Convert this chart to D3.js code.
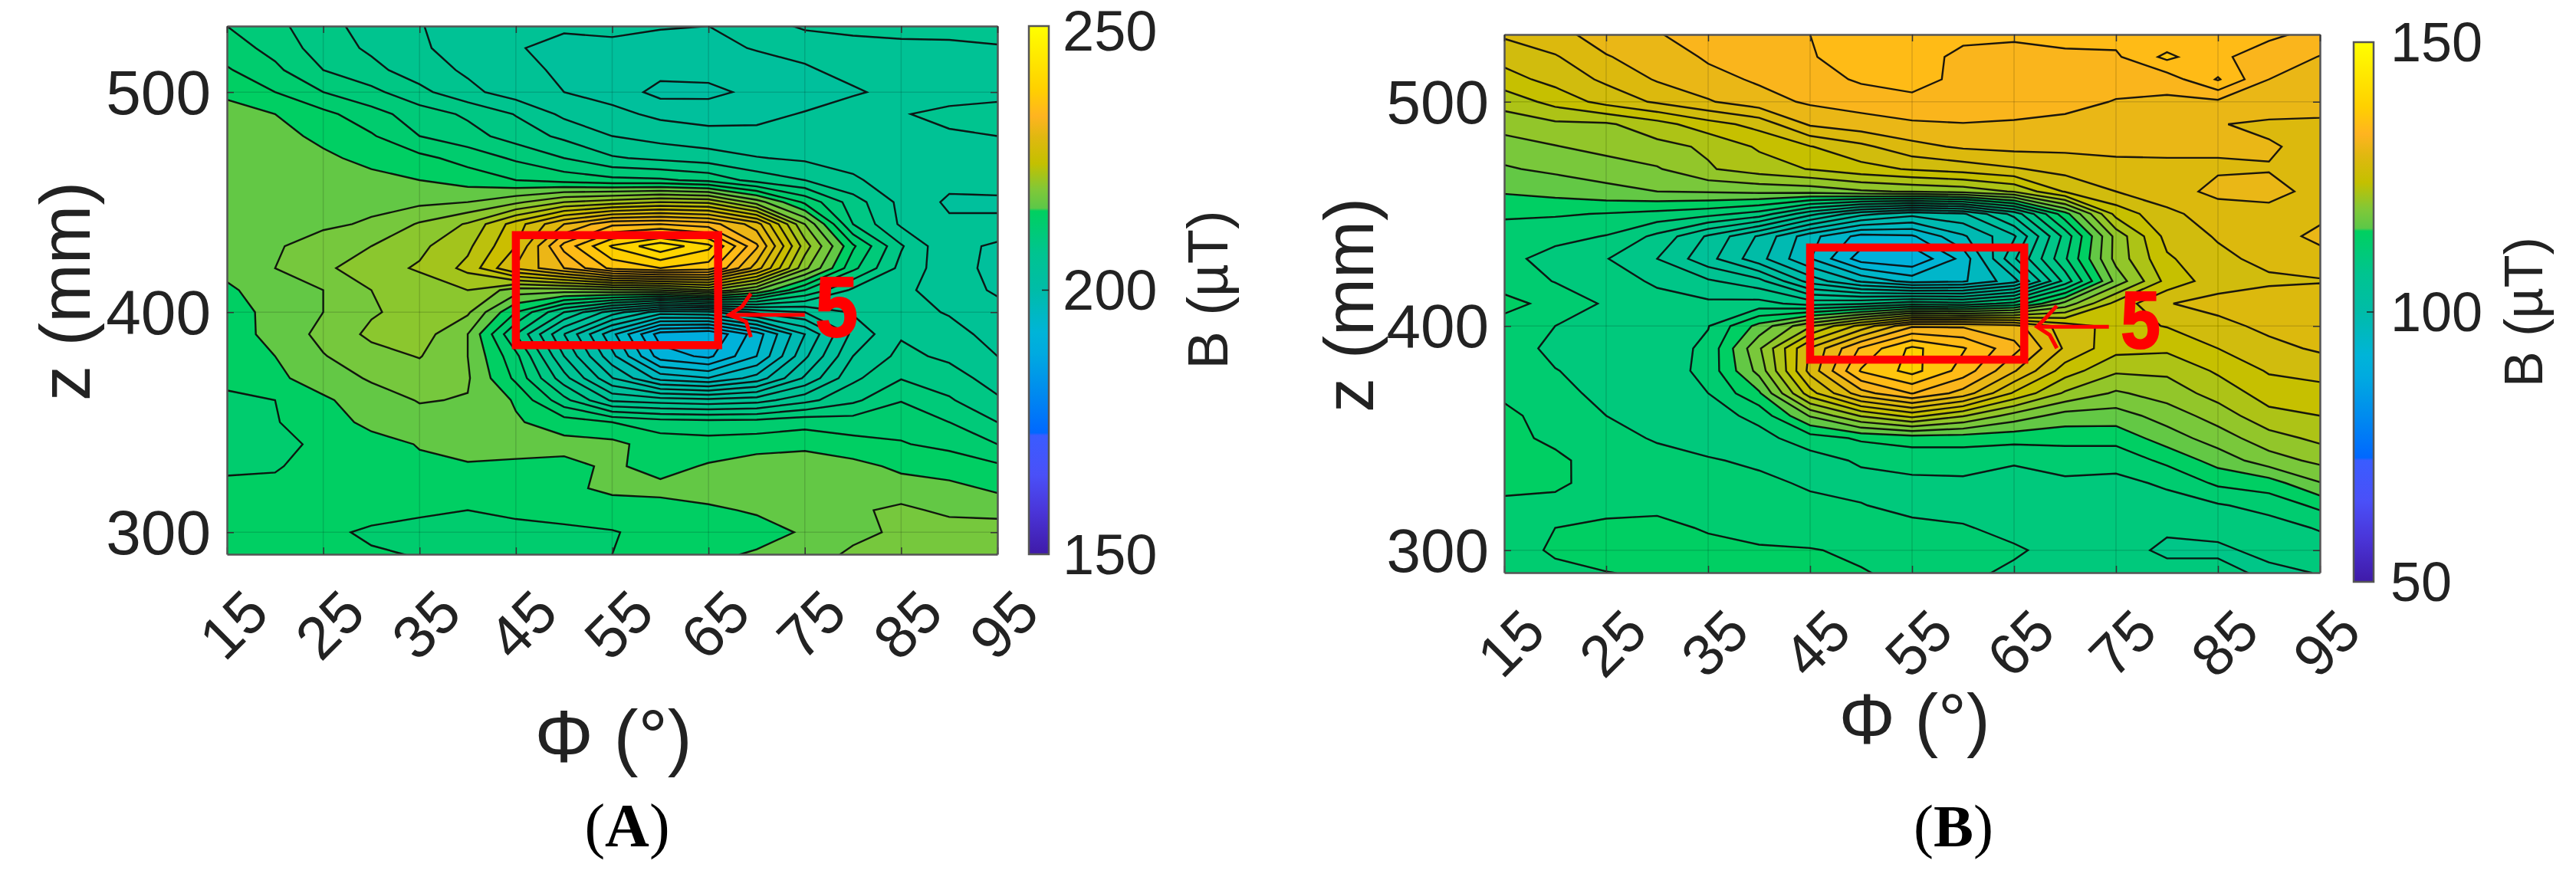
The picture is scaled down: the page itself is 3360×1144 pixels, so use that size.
<!DOCTYPE html>
<html><head><meta charset="utf-8">
<script src="https://cdn.jsdelivr.net/npm/d3@7"></script>
<style>html,body{margin:0;background:#fff}svg{display:block}text{font-family:"Liberation Sans",Arial,sans-serif;fill:#222}</style>
</head><body><div id="c"></div>
<script>
const phiValues=[15,20,25,30,35,40,45,50,55,60,65,70,75,80,85,90,95];
const zValues=[530,520,510,500,490,480,470,460,450,440,430,420,410,400,390,380,370,360,350,340,330,320,310,300,290];
const phiTicks=[15,25,35,45,55,65,75,85,95];
const zTicks=[300,400,500];
const bFieldA=[
[211.7,210.4,208.7,207.4,206.4,205.4,205.0,204.7,205.0,204.6,204.5,205.4,206.6,207.0,207.0,206.8,206.8],
[212.6,211.1,209.0,207.8,206.6,205.4,204.6,204.1,204.0,204.0,204.1,204.6,205.0,205.4,205.8,206.0,206.2],
[213.7,212.1,209.9,208.6,207.2,206.0,205.0,204.2,203.8,203.3,203.4,203.8,204.3,205.0,205.6,205.9,206.0],
[214.6,213.5,211.7,210.4,208.6,206.8,205.4,204.5,203.8,202.1,202.2,203.2,203.8,204.3,205.0,205.6,205.9],
[216.6,215.3,214.0,212.4,210.8,209.6,208.0,205.9,205.0,204.1,203.8,204.1,204.6,205.4,206.2,206.7,206.8],
[216.7,216.0,214.8,213.7,211.7,210.6,209.1,207.7,206.3,205.6,205.1,204.9,205.2,205.6,205.9,206.1,206.3],
[216.7,216.6,215.7,214.7,214.0,212.8,211.4,209.9,208.3,207.7,207.2,206.4,206.0,205.8,205.9,206.0,206.0],
[216.8,216.8,216.6,215.9,215.3,214.5,213.5,212.8,212.2,212.0,211.2,209.2,208.1,206.5,205.6,205.0,205.4],
[216.4,216.6,216.7,216.7,216.7,217.1,218.5,220.7,221.6,222.5,222.1,218.0,213.1,209.0,205.8,204.2,204.1],
[216.2,216.6,216.8,217.3,219.1,220.9,225.2,229.7,232.9,233.3,232.4,228.8,218.9,209.9,206.0,204.8,204.9],
[216.6,216.9,217.9,218.9,220.3,222.1,226.1,233.9,238.9,241.8,239.2,231.8,221.6,213.8,208.3,204.7,204.4],
[215.8,217.1,218.5,220.0,220.9,223.0,228.1,231.5,235.6,236.9,236.0,228.8,219.4,212.2,207.5,205.2,204.0],
[215.0,216.2,217.1,218.9,219.8,220.7,218.0,218.0,218.5,218.9,220.7,217.1,211.7,207.7,206.8,205.2,204.3],
[214.6,215.8,217.1,218.7,219.6,219.2,213.5,208.1,203.6,200.0,200.5,203.2,204.5,206.5,207.2,206.1,205.0],
[214.4,215.9,217.6,219.3,219.8,217.1,209.9,202.7,196.0,189.2,188.3,192.8,199.1,205.0,207.9,207.2,205.4],
[214.4,215.3,217.0,218.2,219.0,217.1,212.2,204.5,197.8,191.0,189.7,193.7,200.5,206.3,208.6,207.7,206.3],
[214.0,214.9,216.2,217.3,218.0,217.3,213.1,207.0,201.0,196.6,195.6,198.0,203.0,207.7,209.8,209.0,207.2],
[213.1,213.5,215.0,216.3,217.2,217.0,215.1,210.5,206.0,205.4,205.0,205.5,207.5,209.5,211.6,210.1,208.4],
[212.9,213.4,214.4,215.8,216.5,216.3,215.5,214.4,213.5,212.6,212.4,212.5,213.0,212.6,213.0,211.7,209.9],
[212.8,213.1,213.8,214.6,215.4,216.5,215.9,215.9,215.8,214.4,214.2,214.4,214.5,214.1,213.6,213.1,211.7],
[213.2,213.3,214.4,214.8,215.0,215.0,215.0,214.8,215.6,214.6,215.5,216.4,217.1,215.9,214.9,214.4,213.8],
[213.9,214.0,214.3,214.4,214.5,214.5,214.6,214.9,215.7,215.8,216.1,216.3,216.5,216.2,216.1,215.8,215.0],
[214.4,214.4,214.3,214.2,213.8,213.5,213.9,214.2,214.4,214.6,215.0,215.5,216.1,216.8,217.5,216.7,216.4],
[214.4,214.2,213.9,213.2,212.9,212.6,212.9,213.1,213.4,214.0,214.8,214.6,215.5,216.5,217.5,218.0,218.2],
[214.6,214.4,214.2,213.7,213.4,213.2,213.2,213.3,213.5,214.0,214.9,215.5,216.0,217.5,217.8,218.4,218.9]];
const bFieldB=[
[127.6,128.8,130.0,131.2,132.0,132.6,133.3,133.8,133.8,133.7,133.5,133.8,134.0,133.4,133.6,133.5,133.0],
[126.0,127.1,129.2,130.0,131.6,132.3,133.2,133.9,134.0,132.9,132.9,133.0,133.0,135.8,133.5,132.8,131.2],
[124.5,126.0,127.7,129.5,130.6,131.6,132.4,133.6,134.0,132.8,132.7,132.6,132.0,132.2,135.5,131.3,130.8],
[122.0,124.0,126.0,127.6,129.1,130.5,131.6,132.1,132.8,133.0,132.6,131.9,131.2,130.9,130.9,130.8,130.3],
[120.3,120.9,121.0,122.5,124.5,126.0,129.6,130.5,131.0,131.2,131.0,130.8,130.4,130.0,129.4,128.9,128.9],
[118.2,119.2,120.0,120.7,121.6,123.6,125.2,126.8,128.7,129.6,129.9,129.8,129.8,129.7,129.5,129.5,128.7],
[117.1,117.7,118.3,119.1,121.1,122.3,123.4,124.6,125.5,126.2,127.1,128.0,128.7,128.9,129.1,129.2,128.8],
[115.5,116.0,116.7,117.3,117.5,117.8,118.0,119.0,119.5,120.0,121.5,125.5,127.3,128.5,129.8,129.9,128.7],
[113.6,113.5,113.2,112.7,112.0,110.5,106.0,102.0,100.0,101.0,106.0,114.5,124.0,126.8,128.3,128.7,128.9],
[112.4,112.0,111.2,108.8,105.0,101.0,96.0,92.6,93.0,97.0,101.0,110.0,120.0,126.0,127.5,128.6,129.7],
[112.0,110.4,109.4,107.3,104.0,100.0,95.4,90.3,89.5,94.0,103.0,111.0,120.0,125.0,126.8,127.9,128.7],
[112.6,111.2,110.2,109.0,107.6,106.0,100.5,97.0,94.5,95.0,98.5,108.0,118.0,124.0,126.4,126.9,127.1],
[113.8,112.8,111.0,110.0,109.7,110.0,108.5,109.0,110.5,110.0,112.0,118.0,124.0,127.2,128.0,128.7,129.2],
[112.7,111.3,110.6,110.2,111.2,116.0,121.0,126.0,131.0,131.0,130.0,126.3,124.6,125.4,126.7,127.8,128.6],
[112.7,110.6,110.4,110.1,111.8,119.0,127.5,133.6,137.8,135.5,132.0,127.0,124.0,123.7,125.3,126.7,127.6],
[112.7,111.4,110.3,110.0,112.0,118.0,128.0,135.5,138.0,134.5,129.5,124.3,121.6,121.7,123.6,125.5,126.0],
[113.0,112.3,110.4,110.0,111.3,115.0,124.5,130.5,133.4,130.5,125.0,121.0,119.0,120.2,122.1,124.2,124.6],
[113.7,112.6,111.3,110.4,110.4,111.9,117.5,121.5,124.0,121.5,118.5,116.5,116.4,118.2,120.2,122.7,123.3],
[114.0,112.8,112.0,111.1,110.3,110.6,112.4,113.6,114.2,114.2,114.0,114.0,114.0,116.3,118.3,120.5,121.8],
[114.1,113.8,112.2,112.0,111.5,110.9,110.4,111.6,112.0,112.0,111.5,112.0,112.0,113.8,116.1,118.4,119.8],
[114.0,113.9,112.0,112.1,112.0,111.8,111.0,110.6,110.9,111.0,110.6,111.0,110.8,111.6,113.7,114.4,117.2],
[112.8,112.4,112.3,112.6,112.4,112.0,111.8,111.4,110.6,110.4,110.3,110.4,110.5,110.6,111.1,112.0,113.8],
[112.3,113.3,114.0,114.1,113.0,112.4,112.4,112.0,111.9,111.5,110.6,110.2,110.3,109.6,110.0,110.4,111.5],
[112.3,113.6,115.0,115.0,114.2,113.6,113.4,113.0,113.2,112.5,111.6,110.5,110.1,108.9,108.9,109.9,110.2],
[112.6,112.8,113.2,113.9,114.0,114.1,114.0,113.4,112.9,111.8,110.9,110.8,110.3,110.0,110.0,108.8,109.4]];
const colorStops=[0,.08,.15,.225,.23,.3,.38,.42,.5,.57,.65,.655,.69,.74,.79,.83,.88,.94,1];
const colorValues=["#3f1aa8","#4a35d8","#4a50f8","#3a5cff","#0068ff","#0088f0","#00aae0","#00b4d8","#00bca8","#00c490","#00d060","#5cc848","#80c838","#c4c000","#e0b810","#ffb420","#ffd000","#ffe800","#ffff00"];
const regionPhi=[45,66], regionZ=[385,435];
const arrowShaftPhi=[[67.2,75],[67.25,74.3]], arrowShaftZ=[398.8,399.7];
const arrowHeadPhi=[[69.4,68.5,67.15,68.9,69.4],[69.2,68,67.25,68.5,69.2]];
const arrowHeadZ=[[408.5,402.6,398.8,395.7,388.7],[409,403.1,399.7,396,390.1]];
const calloutPhi=[78.3,77.4], calloutZ=[402.3,402.8];

const cmap=d3.scaleLinear().domain(colorStops).range(colorValues).interpolate(d3.interpolateRgb);
const svg=d3.select("#c").append("svg").attr("width",3360).attr("height",1144);
const defs=svg.append("defs");
defs.append("filter").attr("id","soft").attr("x","-2%").attr("y","-2%").attr("width","104%").attr("height","104%")
  .append("feGaussianBlur").attr("stdDeviation",0.7);

function panel(o){
  const x=d3.scaleLinear().domain([15,95]).range(o.px);
  const y=d3.scaleLinear().domain([290,530]).range(o.py);
  const t=d3.scaleLinear().domain(o.clim).range([0,1]);
  const levels=d3.range(o.base,o.clim[1],o.step);
  const flat=o.data.flat();
  const nx=phiValues.length, nz=zValues.length;
  const dphi=phiValues[1]-phiValues[0], dz=zValues[0]-zValues[1];
  const path=d3.geoPath(d3.geoTransform({point(a,b){
    this.stream.point(x(phiValues[0]+(a-.5)*dphi),y(zValues[0]-(b-.5)*dz));}}));
  const cs=d3.contours().size([nx,nz]).smooth(true).thresholds(levels)(flat);
  const id="clip"+o.id;
  svg.append("clipPath").attr("id",id).append("rect")
    .attr("x",o.px[0]).attr("y",o.py[1]).attr("width",o.px[1]-o.px[0]).attr("height",o.py[0]-o.py[1]);
  const g=svg.append("g").attr("clip-path",`url(#${id})`).append("g").attr("filter","url(#soft)");
  g.selectAll("path.f").data(cs).join("path").attr("class","f")
    .attr("d",path).attr("fill",d=>cmap(Math.max(0,Math.min(1,t(d.value+o.step/2))))).attr("stroke","none");
  g.selectAll("path.l").data(cs.filter(c=>c.coordinates.length)).join("path").attr("class","l")
    .attr("d",path).attr("fill","none").attr("stroke","#0a0a0a").attr("stroke-opacity",.92).attr("stroke-width",2.4);
  g.selectAll("line.gx").data(phiTicks).join("line").attr("x1",x).attr("x2",x).attr("y1",o.py[1]).attr("y2",o.py[0])
    .attr("stroke","#000").attr("stroke-opacity",.14).attr("stroke-width",1.5);
  g.selectAll("line.gy").data(zTicks).join("line").attr("y1",y).attr("y2",y).attr("x1",o.px[0]).attr("x2",o.px[1])
    .attr("stroke","#000").attr("stroke-opacity",.14).attr("stroke-width",1.5);
  const ax=svg.append("g").attr("transform",`translate(0,${o.py[0]})`).call(d3.axisBottom(x).tickValues(phiTicks).tickSizeInner(-9).tickSizeOuter(0).tickFormat(d3.format("d")));
  ax.selectAll(".tick text").attr("y",null).attr("dy",null).attr("text-anchor","middle")
    .attr("dominant-baseline","central").attr("font-size",o.xfs)
    .attr("transform",`translate(${o.xlabDx},${o.xlabDy}) rotate(-45)`);
  const ay=svg.append("g").attr("transform",`translate(${o.px[0]},0)`).call(d3.axisLeft(y).tickValues(zTicks).tickSizeInner(-9).tickSizeOuter(0).tickFormat(d3.format("d")));
  ay.selectAll(".tick text").attr("x",o.ylabX-o.px[0]).attr("dy",null).attr("dominant-baseline","central").attr("text-anchor","end").attr("font-size",o.yfs);
  const ar=svg.append("g").attr("transform",`translate(${o.px[1]},0)`).call(d3.axisRight(y).tickValues(zTicks).tickSizeInner(-9).tickSizeOuter(0).tickFormat(""));
  const at=svg.append("g").attr("transform",`translate(0,${o.py[1]})`).call(d3.axisTop(x).tickValues(phiTicks).tickSizeInner(-9).tickSizeOuter(0).tickFormat(""));
  [ax,ay,ar,at].forEach(a=>{a.selectAll(".domain").attr("stroke","#555").attr("stroke-width",2.5);a.selectAll(".tick line").attr("stroke","#333").attr("stroke-width",1.5);a.attr("font-family",null)});
  svg.append("text").attr("transform",`translate(${o.zTitle[0]},${o.zTitle[1]}) rotate(-90)`).attr("text-anchor","middle").attr("dominant-baseline","central").attr("font-size",o.zTitle[2]).text("z (mm)");
  svg.append("text").attr("x",o.phiTitle[0]).attr("y",o.phiTitle[1]).attr("text-anchor","middle").attr("dominant-baseline","central").attr("font-size",o.phiTitle[2]).text("Φ (°)");
  const pl=svg.append("text").attr("x",o.letter[0]).attr("y",o.letter[1]).attr("text-anchor","middle").attr("dominant-baseline","central").attr("font-size",o.letter[2]).style("font-family","'Liberation Serif',serif").style("fill","#000");
  pl.append("tspan").text("(");pl.append("tspan").attr("font-weight","bold").text(o.name);pl.append("tspan").text(")");
  const cb=d3.scaleLinear().domain(o.clim).range(o.cbY);
  const gid="grad"+o.id;
  const grad=svg.append("linearGradient").attr("id",gid).attr("x1",0).attr("x2",0).attr("y1",1).attr("y2",0);
  grad.selectAll("stop").data(colorStops).join("stop").attr("offset",d=>d).attr("stop-color",(d,i)=>colorValues[i]);
  svg.append("rect").attr("x",o.cbX[0]).attr("width",o.cbX[1]-o.cbX[0]).attr("y",o.cbY[1]).attr("height",o.cbY[0]-o.cbY[1])
    .attr("fill",`url(#${gid})`).attr("stroke","#555").attr("stroke-width",2.5);
  const cbTicks=[o.clim[0],(o.clim[0]+o.clim[1])/2,o.clim[1]];
  svg.append("line").attr("x1",o.cbX[1]-9).attr("x2",o.cbX[1]).attr("y1",cb(cbTicks[1])).attr("y2",cb(cbTicks[1])).attr("stroke","#222").attr("stroke-width",1.5);
  svg.append("g").selectAll("text").data(cbTicks).join("text").attr("x",o.cbLab).attr("y",d=>cb(d)+(d===o.clim[1]?o.cbTopNudge:0)).attr("dominant-baseline","central").attr("font-size",o.cbfs).text(d=>d);
  svg.append("text").attr("transform",`translate(${o.bTitle[0]},${o.bTitle[1]}) rotate(-90)`).attr("text-anchor","middle").attr("dominant-baseline","central").attr("font-size",o.bTitle[2]).text("B (µT)");
  const red="#ff0000";
  svg.append("rect").attr("x",x(regionPhi[0])).attr("width",x(regionPhi[1])-x(regionPhi[0])).attr("y",y(regionZ[1])).attr("height",y(regionZ[0])-y(regionZ[1]))
    .attr("fill","none").attr("stroke",red).attr("stroke-width",10.5);
  const line=d3.line().x(d=>x(d[0])).y(d=>y(d[1]));
  svg.append("path").attr("d",line(arrowShaftPhi[o.k].map(p=>[p,arrowShaftZ[o.k]]))).attr("fill","none").attr("stroke",red).attr("stroke-width",5);
  svg.append("path").attr("d",line(arrowHeadPhi[o.k].map((p,i)=>[p,arrowHeadZ[o.k][i]]))).attr("fill","none").attr("stroke",red).attr("stroke-width",5);
  svg.append("text").attr("x",x(calloutPhi[o.k])).attr("y",y(calloutZ[o.k])).attr("text-anchor","middle").attr("dominant-baseline","central").attr("font-weight","bold").attr("font-size",o.fivefs)
    .attr("textLength",o.fivew).attr("lengthAdjust","spacingAndGlyphs").style("fill",red).attr("stroke",red).attr("stroke-width",2).text("5");
}
panel({id:"A",k:0,name:"A",data:bFieldA,clim:[150,250],base:179.3,step:1.8,px:[296,1301],py:[723,34],
  xfs:78,yfs:82,xlabDx:8,xlabDy:92,ylabX:275,zTitle:[85,380,92],phiTitle:[800,960,96],letter:[818,1077,80],
  cbX:[1342,1368],cbY:[723,34],cbLab:1386,cbfs:74,cbTopNudge:6,bTitle:[1575,378,74],fivefs:112,fivew:56});
panel({id:"B",k:1,name:"B",data:bFieldB,clim:[50,150],base:79.3,step:2,px:[1962,3026],py:[747,45],
  xfs:76,yfs:80,xlabDx:8,xlabDy:92,ylabX:1942,zTitle:[1760,398,90],phiTitle:[2497,938,92],letter:[2548,1077,78],
  cbX:[3070,3096],cbY:[759,55],cbLab:3118,cbfs:72,cbTopNudge:0,bTitle:[3292,407,70],fivefs:106,fivew:52});
</script></body></html>
